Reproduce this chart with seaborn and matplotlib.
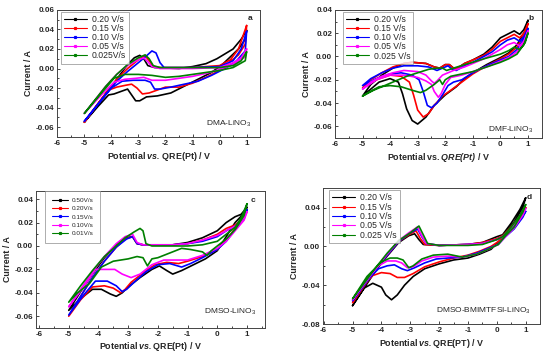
import matplotlib
matplotlib.use("Agg")
import matplotlib.pyplot as plt
from matplotlib.lines import Line2D
from matplotlib.ticker import MultipleLocator, AutoMinorLocator, FormatStrFormatter
import pandas as pd
import seaborn as sns

# ---- data: (E / V, I / A), cathodic then anodic sweep ----
colors = ["#000000", "#ff0000", "#0000ff", "#ff00ff", "#008000"]

rates_std = ["0.20 V/s", "0.15 V/s", "0.10 V/s", "0.05 V/s", "0.025 V/s"]
rates_a = ["0.20 V/s", "0.15 V/s", "0.10 V/s", "0.05 V/s", "0.025V/s"]
rates_c = ["0.50V/s", "0.20V/s", "0.15V/s", "0.10V/s", "0.01V/s"]

# (a) DMA-LiNO3
a_020 = [(1, 0.039), (0.95, 0.03), (0.7, 0.02), (0.4, 0.012), (0.1, 0.004), (-0.3, -0.004), (-0.8, -0.011),
         (-1.3, -0.018), (-1.8, -0.025), (-2.3, -0.028), (-2.7, -0.029), (-2.95, -0.033), (-3.1, -0.033),
         (-3.25, -0.027), (-3.4, -0.021), (-3.6, -0.023), (-3.9, -0.026), (-4.1, -0.027), (-4.5, -0.039),
         (-5, -0.055), (-4.6, -0.041), (-4.2, -0.026), (-3.8, -0.011), (-3.4, 0.004), (-3.15, 0.011),
         (-2.95, 0.0135), (-2.8, 0.01), (-2.65, 0.003), (-2.4, 0.001), (-1.5, 0.0), (-1, 0.002), (-0.5, 0.005),
         (-0.1, 0.01), (0.2, 0.015), (0.5, 0.02), (0.8, 0.03), (1, 0.039)]
a_015 = [(1, 0.044), (0.95, 0.025), (0.7, 0.014), (0.4, 0.007), (0, -0.002), (-0.5, -0.009), (-1, -0.015),
         (-1.5, -0.019), (-2, -0.019), (-2.3, -0.022), (-2.6, -0.025), (-2.85, -0.026), (-3.05, -0.02),
         (-3.25, -0.016), (-3.45, -0.017), (-3.8, -0.019), (-4.1, -0.022), (-4.5, -0.036), (-5, -0.055),
         (-4.6, -0.04), (-4.2, -0.025), (-3.8, -0.011), (-3.4, 0.0), (-3.0, 0.009), (-2.75, 0.013),
         (-2.6, 0.008), (-2.45, 0.002), (-2.2, 0.001), (-1, 0.001), (0, 0.003), (0.4, 0.009), (0.7, 0.02),
         (1, 0.044)]
a_010 = [(1, 0.038), (0.95, 0.018), (0.6, 0.007), (0.2, 0.0), (-0.3, -0.007), (-0.8, -0.013), (-1.3, -0.016),
         (-1.8, -0.019), (-2.2, -0.021), (-2.4, -0.021), (-2.55, -0.014), (-2.75, -0.012), (-3.2, -0.012),
         (-3.6, -0.013), (-4.0, -0.02), (-4.5, -0.037), (-5, -0.054), (-4.6, -0.04), (-4.2, -0.026),
         (-3.8, -0.013), (-3.4, -0.003), (-3, 0.006), (-2.7, 0.013), (-2.5, 0.018), (-2.35, 0.016),
         (-2.2, 0.006), (-2.05, 0.001), (-1, 0.001), (0, 0.002), (0.5, 0.008), (0.8, 0.02), (1, 0.038)]
a_005 = [(1, 0.02), (0.95, 0.012), (0.5, 0.004), (0, -0.001), (-0.5, -0.005), (-1, -0.008), (-1.5, -0.01),
         (-2, -0.012), (-2.5, -0.012), (-2.8, -0.009), (-3.1, -0.01), (-3.5, -0.011), (-3.9, -0.014),
         (-4.3, -0.025), (-4.7, -0.037), (-5, -0.046), (-4.6, -0.032), (-4.2, -0.018), (-3.8, -0.006),
         (-3.4, 0.003), (-3.0, 0.009), (-2.8, 0.011), (-2.65, 0.007), (-2.5, 0.002), (-2.2, 0.0), (-1, 0.0),
         (0, 0.001), (0.5, 0.006), (0.8, 0.011), (1, 0.02)]
a_0025 = [(1, 0.017), (0.95, 0.008), (0.5, 0.001), (0, -0.002), (-0.5, -0.004), (-1, -0.006), (-1.5, -0.008),
          (-2, -0.009), (-2.5, -0.007), (-3, -0.006), (-3.5, -0.006), (-3.9, -0.01), (-4.3, -0.023),
          (-4.7, -0.036), (-5, -0.046), (-4.6, -0.032), (-4.2, -0.018), (-3.8, -0.006), (-3.4, 0.004),
          (-3.0, 0.011), (-2.75, 0.014), (-2.6, 0.01), (-2.45, 0.003), (-2.2, 0.001), (-1, 0.001), (0, 0.001),
          (0.5, 0.003), (0.8, 0.008), (1, 0.017)]

# (b) DMF-LiNO3
b_020 = [(1, 0.031), (0.9, 0.022), (0.6, 0.01), (0.3, 0.003), (0, -0.001), (-0.5, -0.007), (-1, -0.014),
         (-1.3, -0.019), (-1.6, -0.026), (-2, -0.033), (-2.4, -0.042), (-2.7, -0.052), (-3.0, -0.058),
         (-3.2, -0.055), (-3.4, -0.045), (-3.55, -0.032), (-3.7, -0.022), (-4, -0.019), (-4.4, -0.022),
         (-4.8, -0.03), (-5, -0.034), (-4.7, -0.024), (-4.3, -0.016), (-3.9, -0.01), (-3.5, -0.006),
         (-3.2, -0.005), (-2.7, -0.006), (-2.4, -0.009), (-2.2, -0.01), (-2.0, -0.007), (-1.85, -0.007),
         (-1.7, -0.01), (-1.55, -0.01), (-1.3, -0.006), (-1, -0.003), (-0.6, 0.002), (-0.3, 0.008),
         (0, 0.016), (0.25, 0.019), (0.5, 0.022), (0.7, 0.019), (0.85, 0.023), (1, 0.031)]
b_015 = [(1, 0.028), (0.9, 0.02), (0.6, 0.008), (0.3, 0.002), (0, -0.002), (-0.5, -0.008), (-1, -0.015),
         (-1.4, -0.022), (-1.8, -0.029), (-2.1, -0.034), (-2.4, -0.042), (-2.6, -0.049), (-2.8, -0.052),
         (-3.0, -0.046), (-3.15, -0.033), (-3.3, -0.022), (-3.6, -0.017), (-4, -0.016), (-4.5, -0.02),
         (-5, -0.027), (-4.7, -0.02), (-4.3, -0.014), (-3.9, -0.009), (-3.5, -0.006), (-3.2, -0.005),
         (-2.7, -0.006), (-2.4, -0.009), (-2.2, -0.01), (-2.0, -0.007), (-1.85, -0.007), (-1.7, -0.01),
         (-1.55, -0.01), (-1.3, -0.006), (-1, -0.003), (-0.6, 0.001), (-0.3, 0.006), (0, 0.013),
         (0.25, 0.016), (0.5, 0.019), (0.7, 0.016), (0.85, 0.02), (1, 0.028)]
b_010 = [(1, 0.024), (0.9, 0.017), (0.6, 0.006), (0.3, 0.0), (0, -0.003), (-0.5, -0.008), (-1, -0.014),
         (-1.4, -0.02), (-1.7, -0.022), (-1.9, -0.025), (-2.1, -0.033), (-2.3, -0.04), (-2.5, -0.044),
         (-2.65, -0.042), (-2.8, -0.03), (-2.95, -0.02), (-3.2, -0.016), (-3.6, -0.014), (-4, -0.015),
         (-4.5, -0.019), (-5, -0.025), (-4.7, -0.019), (-4.3, -0.014), (-3.9, -0.01), (-3.5, -0.008),
         (-3, -0.008), (-2.6, -0.009), (-2.3, -0.012), (-2.1, -0.01), (-1.9, -0.008), (-1.75, -0.011),
         (-1.6, -0.012), (-1.3, -0.008), (-1, -0.005), (-0.6, 0.0), (-0.3, 0.004), (0, 0.01), (0.25, 0.014),
         (0.5, 0.016), (0.7, 0.013), (0.85, 0.017), (1, 0.024)]
b_005 = [(1, 0.022), (0.9, 0.014), (0.6, 0.004), (0.3, -0.001), (0, -0.004), (-0.5, -0.009), (-1, -0.013),
         (-1.4, -0.016), (-1.8, -0.018), (-2.0, -0.024), (-2.15, -0.032), (-2.25, -0.035), (-2.4, -0.03),
         (-2.5, -0.024), (-2.7, -0.021), (-3, -0.018), (-3.5, -0.016), (-4, -0.016), (-4.5, -0.02),
         (-5, -0.028), (-4.7, -0.022), (-4.3, -0.017), (-3.9, -0.014), (-3.5, -0.012), (-3.0, -0.013),
         (-2.7, -0.016), (-2.5, -0.021), (-2.4, -0.023), (-2.3, -0.021), (-2.1, -0.016), (-1.7, -0.012),
         (-1.3, -0.009), (-1, -0.006), (-0.6, -0.002), (-0.3, 0.002), (0, 0.006), (0.25, 0.01), (0.5, 0.012),
         (0.7, 0.009), (0.85, 0.013), (1, 0.022)]
b_0025 = [(1, 0.02), (0.9, 0.012), (0.6, 0.002), (0.3, -0.002), (0, -0.005), (-0.5, -0.009), (-1, -0.013),
          (-1.4, -0.015), (-1.8, -0.017), (-2.0, -0.02), (-2.1, -0.024), (-2.2, -0.02), (-2.4, -0.024),
          (-2.7, -0.029), (-2.9, -0.031), (-3.2, -0.029), (-3.6, -0.026), (-4, -0.025), (-4.4, -0.026),
          (-4.8, -0.031), (-5, -0.034), (-4.6, -0.029), (-4.2, -0.025), (-3.8, -0.021), (-3.4, -0.017),
          (-3.0, -0.014), (-2.6, -0.011), (-2.3, -0.01), (-2.1, -0.01), (-1.95, -0.012), (-1.7, -0.01),
          (-1.3, -0.007), (-1, -0.005), (-0.6, -0.002), (-0.3, 0.0), (0, 0.002), (0.3, 0.005), (0.5, 0.008),
          (0.7, 0.006), (0.85, 0.01), (1, 0.02)]

# (c) DMSO-LiNO3
c_050 = [(1, 0.033), (0.9, 0.028), (0.6, 0.02), (0.3, 0.008), (0, -0.004), (-0.4, -0.011), (-0.8, -0.016),
         (-1.2, -0.021), (-1.5, -0.024), (-1.7, -0.021), (-1.95, -0.017), (-2.2, -0.02), (-2.6, -0.027),
         (-3, -0.035), (-3.2, -0.04), (-3.4, -0.043), (-3.6, -0.041), (-3.9, -0.037), (-4.2, -0.037),
         (-4.6, -0.045), (-5, -0.055), (-4.6, -0.039), (-4.2, -0.024), (-3.8, -0.01), (-3.4, 0.001),
         (-3.1, 0.007), (-2.85, 0.008), (-2.7, 0.002), (-2.5, 0.001), (-1.5, 0.001), (-1, 0.003),
         (-0.5, 0.007), (0, 0.013), (0.3, 0.02), (0.6, 0.025), (0.8, 0.027), (1, 0.033)]
c_020 = [(1, 0.031), (0.9, 0.024), (0.6, 0.015), (0.3, 0.005), (0, -0.003), (-0.5, -0.009), (-1, -0.013),
         (-1.3, -0.015), (-1.7, -0.014), (-2.1, -0.016), (-2.5, -0.023), (-2.9, -0.031), (-3.1, -0.037),
         (-3.25, -0.04), (-3.5, -0.036), (-3.8, -0.034), (-4.2, -0.035), (-4.6, -0.046), (-5, -0.06),
         (-4.6, -0.043), (-4.2, -0.027), (-3.8, -0.013), (-3.4, -0.001), (-3.1, 0.006), (-2.85, 0.008),
         (-2.7, 0.002), (-2.5, 0.001), (-1.5, 0.001), (-1, 0.002), (-0.5, 0.005), (0, 0.01), (0.3, 0.015),
         (0.6, 0.018), (0.8, 0.022), (1, 0.031)]
c_015 = [(1, 0.031), (0.9, 0.023), (0.6, 0.014), (0.3, 0.004), (0, -0.003), (-0.5, -0.01), (-0.9, -0.015),
         (-1.2, -0.018), (-1.6, -0.015), (-2.0, -0.016), (-2.4, -0.022), (-2.8, -0.031), (-3.05, -0.037),
         (-3.2, -0.039), (-3.4, -0.034), (-3.7, -0.03), (-4.1, -0.03), (-4.5, -0.042), (-5, -0.059),
         (-4.6, -0.043), (-4.2, -0.027), (-3.8, -0.013), (-3.4, -0.001), (-3.05, 0.006), (-2.85, 0.008),
         (-2.7, 0.002), (-2.5, 0.001), (-1.5, 0.001), (-1, 0.002), (-0.5, 0.004), (0, 0.008), (0.3, 0.013),
         (0.6, 0.017), (0.8, 0.021), (1, 0.031)]
c_010 = [(1, 0.029), (0.9, 0.022), (0.6, 0.013), (0.3, 0.004), (0, -0.002), (-0.5, -0.008), (-1, -0.012),
         (-1.4, -0.012), (-1.8, -0.012), (-2.2, -0.016), (-2.6, -0.024), (-2.9, -0.027), (-3.2, -0.024),
         (-3.45, -0.02), (-3.8, -0.02), (-4.1, -0.02), (-4.5, -0.035), (-5, -0.052), (-4.6, -0.037),
         (-4.2, -0.022), (-3.8, -0.009), (-3.4, 0.002), (-3.1, 0.008), (-2.85, 0.01), (-2.7, 0.003),
         (-2.5, 0.001), (-1.5, 0.001), (-1, 0.002), (-0.5, 0.005), (0, 0.009), (0.3, 0.013), (0.6, 0.017),
         (0.8, 0.021), (1, 0.029)]
c_001 = [(1, 0.036), (0.9, 0.026), (0.6, 0.014), (0.3, 0.006), (0.05, 0.001), (-0.2, -0.004), (-0.35, -0.008),
         (-0.5, -0.005), (-0.9, -0.003), (-1.2, -0.002), (-1.6, -0.006), (-2.0, -0.01), (-2.2, -0.011),
         (-2.35, -0.017), (-2.5, -0.01), (-2.7, -0.009), (-3.0, -0.011), (-3.5, -0.013), (-3.9, -0.018),
         (-4.3, -0.032), (-4.7, -0.04), (-5, -0.048), (-4.6, -0.034), (-4.2, -0.021), (-3.8, -0.009),
         (-3.4, 0.0), (-3.1, 0.007), (-2.8, 0.012), (-2.6, 0.015), (-2.5, 0.013), (-2.4, 0.002), (-2.2, 0.0),
         (-1.5, 0.0), (-1, 0.0), (-0.5, 0.001), (0, 0.004), (0.3, 0.01), (0.6, 0.016), (0.8, 0.024), (1, 0.036)]

# (d) DMSO-BMIMTFSI-LiNO3
d_020 = [(1, 0.05), (0.9, 0.04), (0.6, 0.025), (0.3, 0.013), (0.1, 0.006), (-0.2, -0.003), (-0.6, -0.008),
         (-1, -0.012), (-1.5, -0.014), (-2, -0.018), (-2.5, -0.023), (-2.9, -0.031), (-3.2, -0.04),
         (-3.45, -0.05), (-3.65, -0.055), (-3.85, -0.05), (-4.0, -0.042), (-4.3, -0.038), (-4.6, -0.043),
         (-5, -0.061), (-4.6, -0.043), (-4.2, -0.025), (-3.8, -0.01), (-3.4, 0.004), (-3.05, 0.011),
         (-2.85, 0.013), (-2.7, 0.007), (-2.55, 0.002), (-2, 0.001), (-1, 0.002), (-0.5, 0.004), (0, 0.01),
         (0.2, 0.012), (0.5, 0.024), (0.8, 0.038), (1, 0.05)]
d_015 = [(1, 0.04), (0.9, 0.033), (0.6, 0.02), (0.3, 0.012), (0.1, 0.006), (-0.2, 0.0), (-0.6, -0.005),
         (-1, -0.009), (-1.5, -0.012), (-2, -0.016), (-2.5, -0.021), (-2.9, -0.028), (-3.2, -0.032),
         (-3.45, -0.032), (-3.7, -0.028), (-4.0, -0.027), (-4.3, -0.03), (-4.6, -0.039), (-5, -0.058),
         (-4.6, -0.041), (-4.2, -0.024), (-3.8, -0.009), (-3.4, 0.005), (-3.05, 0.012), (-2.8, 0.016),
         (-2.65, 0.008), (-2.5, 0.002), (-2, 0.001), (-1, 0.002), (-0.5, 0.004), (0, 0.008), (0.2, 0.011),
         (0.5, 0.02), (0.8, 0.031), (1, 0.04)]
d_010 = [(1, 0.036), (0.9, 0.03), (0.6, 0.018), (0.3, 0.01), (0.05, 0.002), (-0.3, -0.002), (-0.7, -0.007),
         (-1.2, -0.011), (-1.7, -0.012), (-2.1, -0.013), (-2.5, -0.017), (-2.85, -0.022), (-3.1, -0.025),
         (-3.3, -0.023), (-3.55, -0.019), (-3.8, -0.02), (-4.1, -0.023), (-4.5, -0.035), (-5, -0.056),
         (-4.6, -0.04), (-4.2, -0.024), (-3.8, -0.009), (-3.4, 0.005), (-3.05, 0.013), (-2.75, 0.018),
         (-2.6, 0.01), (-2.45, 0.003), (-2, 0.001), (-1, 0.002), (-0.5, 0.003), (0, 0.007), (0.2, 0.01),
         (0.5, 0.018), (0.8, 0.028), (1, 0.036)]
d_005 = [(1, 0.039), (0.9, 0.032), (0.6, 0.019), (0.3, 0.01), (0.05, 0.002), (-0.3, -0.003), (-0.7, -0.008),
         (-1.2, -0.011), (-1.7, -0.01), (-2.2, -0.011), (-2.6, -0.015), (-2.9, -0.021), (-3.1, -0.022),
         (-3.3, -0.017), (-3.5, -0.015), (-3.8, -0.015), (-4.1, -0.02), (-4.5, -0.033), (-5, -0.055),
         (-4.6, -0.039), (-4.2, -0.023), (-3.8, -0.008), (-3.4, 0.006), (-3.05, 0.014), (-2.75, 0.02),
         (-2.6, 0.011), (-2.45, 0.003), (-2, 0.001), (-1, 0.002), (-0.5, 0.003), (0, 0.007), (0.2, 0.01),
         (0.5, 0.019), (0.8, 0.03), (1, 0.039)]
d_0025 = [(1, 0.043), (0.9, 0.035), (0.6, 0.02), (0.3, 0.011), (0.05, 0.002), (-0.3, -0.003), (-0.7, -0.008),
          (-1.2, -0.011), (-1.7, -0.008), (-2.2, -0.009), (-2.6, -0.013), (-2.9, -0.02), (-3.05, -0.022),
          (-3.25, -0.014), (-3.45, -0.012), (-3.7, -0.012), (-4.0, -0.016), (-4.5, -0.031), (-5, -0.054),
          (-4.6, -0.038), (-4.2, -0.022), (-3.8, -0.007), (-3.4, 0.006), (-3.0, 0.014), (-2.7, 0.021),
          (-2.55, 0.012), (-2.4, 0.003), (-2, 0.001), (-1, 0.001), (-0.5, 0.002), (0, 0.007), (0.2, 0.01),
          (0.5, 0.02), (0.8, 0.032), (1, 0.043)]


def to_frame(curves, labels):
    rows = []
    for curve, lab in zip(curves, labels):
        for i, (e, cur) in enumerate(curve):
            rows.append({"rate": lab, "step": i, "E": e, "I": cur})
    return pd.DataFrame(rows)


sns.set_style("ticks")
plt.rcParams["font.family"] = ["Liberation Sans", "DejaVu Sans"]
plt.rcParams["axes.unicode_minus"] = False
plt.rcParams["mathtext.fontset"] = "custom"
plt.rcParams["mathtext.rm"] = "Liberation Sans"
plt.rcParams["mathtext.it"] = "Liberation Sans:italic"
plt.rcParams["mathtext.bf"] = "Liberation Sans:bold"
try:
    plt.rcParams["mathtext.bfit"] = "Liberation Sans:italic:bold"
except KeyError:
    pass

panels = [
    dict(curves=[a_020, a_015, a_010, a_005, a_0025], labels=rates_a, rect=[0.104, 0.612, 0.369, 0.360],
         xlim=(-6, 1.5), ylim=(-0.07, 0.06), ystep=0.02, letter="a", name="DMA-LiNO$_3$", name_y=0.10,
         xlabel=r"Potential $\mathbfit{vs.}\,$QRE(Pt) / V",
         leg=dict(fontsize=6.2, labelspacing=0.02, borderpad=0.35), leg_anchor=(0.02, 0.985)),
    dict(curves=[b_020, b_015, b_010, b_005, b_0025], labels=rates_std, rect=[0.609, 0.609, 0.376, 0.363],
         xlim=(-6, 1.5), ylim=(-0.07, 0.04), ystep=0.02, letter="b", name="DMF-LiNO$_3$", name_y=0.06,
         xlabel=r"Potential $\mathbf{vs.}\mathbfit{QRE(Pt)}$ / V",
         leg=dict(fontsize=6.2, labelspacing=0.02, borderpad=0.35), leg_anchor=(0.04, 0.985)),
    dict(curves=[c_050, c_020, c_015, c_010, c_001], labels=rates_c, rect=[0.0655, 0.071, 0.416, 0.388],
         xlim=(-6.1, 1.6), ylim=(-0.07, 0.047), ystep=0.02, letter="c", name="DMSO-LiNO$_3$", name_y=0.12,
         xlabel=r"Potential $\mathbfit{vs.}$QRE(Pt) / V",
         leg=dict(fontsize=4.6, labelspacing=0.45, borderpad=1.0), leg_anchor=(0.04, 1.0)),
    dict(curves=[d_020, d_015, d_010, d_005, d_0025], labels=rates_std, rect=[0.587, 0.082, 0.395, 0.385],
         xlim=(-6.03, 1.5), ylim=(-0.08, 0.06), ystep=0.04, letter="d", name="DMSO-BMIMTFSI-LiNO$_3$",
         name_y=0.10, xlabel=r"Potential $\mathbfit{vs.}$QRE(PT) / V",
         leg=dict(fontsize=6.2, labelspacing=0.05, borderpad=0.35), leg_anchor=(0.03, 0.985)),
]

fig = plt.figure(figsize=(5.5, 3.53), dpi=100)

for p in panels:
    ax = fig.add_axes(p["rect"])
    df = to_frame(p["curves"], p["labels"])
    sns.lineplot(data=df, x="E", y="I", hue="rate", hue_order=p["labels"], palette=colors,
                 sort=False, estimator=None, lw=1.2, ax=ax, legend=False)

    ax.set_xlim(*p["xlim"])
    ax.set_ylim(*p["ylim"])
    ax.xaxis.set_major_locator(MultipleLocator(1))
    ax.yaxis.set_major_locator(MultipleLocator(p["ystep"]))
    ax.xaxis.set_minor_locator(AutoMinorLocator(2))
    ax.yaxis.set_minor_locator(AutoMinorLocator(2))
    ax.xaxis.set_major_formatter(FormatStrFormatter("%d"))
    ax.yaxis.set_major_formatter(FormatStrFormatter("%.2f"))
    ax.tick_params(which="both", direction="in", width=0.6, labelsize=5.8, pad=2)
    ax.tick_params(which="major", length=2.5)
    ax.tick_params(which="minor", length=1.5)
    for lab in ax.get_xticklabels() + ax.get_yticklabels():
        lab.set_fontweight("bold")
    for s in ax.spines.values():
        s.set_linewidth(0.7)
        s.set_color("#444444")

    ax.set_xlabel(p["xlabel"], fontsize=6.4, fontweight="bold", labelpad=2)
    ax.set_ylabel("Current / A", fontsize=6.4, fontweight="bold", labelpad=2)

    ax.text(0.96, 0.93, p["letter"], transform=ax.transAxes, ha="right", va="center",
            fontsize=6, fontweight="bold")
    ax.text(0.96, p["name_y"], p["name"], transform=ax.transAxes, ha="right", va="center", fontsize=6)

    handles = [Line2D([], [], color=c, lw=0.8, marker="s", markersize=1.3) for c in colors]
    leg = ax.legend(handles, p["labels"], loc="upper left", bbox_to_anchor=p["leg_anchor"],
                    frameon=True, fancybox=False, edgecolor="#888888", handlelength=2.6,
                    handletextpad=0.6, borderaxespad=0, **p["leg"])
    leg.get_frame().set_linewidth(0.6)

fig.savefig("out.png", dpi=100)
